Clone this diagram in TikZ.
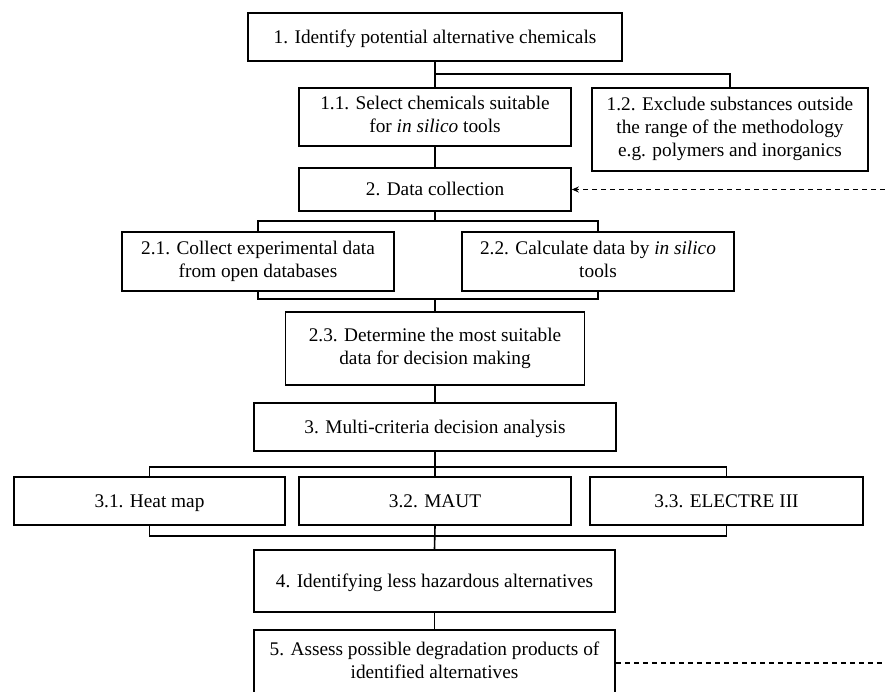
\documentclass[tikz,border=0pt]{standalone}
\usepackage{fontspec}
\setmainfont{Liberation Serif}
\usetikzlibrary{arrows.meta}
\newcommand{\topstrut}{\rule{0pt}{17pt}}
\newcommand{\botstrut}{\rule[-5pt]{0pt}{5pt}}
\begin{document}
\begin{tikzpicture}[x=1pt,y=-1pt,
  box/.style={draw, line width=1.6pt, inner sep=0pt, align=center,
    font=\fontsize{19.3}{23}\selectfont,
    execute at begin node=\topstrut, execute at end node=\botstrut},
  link/.style={line width=1.6pt},
  dashlink/.style={line width=1.3pt, dash pattern=on 5pt off 4pt}]
\useasboundingbox (0,0) rectangle (885,691);
\clip (0,0) rectangle (885,691);
\node[box, minimum width=374pt, minimum height=48pt] (b1) at (435,37) {1. Identify potential alternative chemicals};
\node[box, minimum width=272pt, minimum height=58pt] (b11) at (435,117) {1.1. Select chemicals suitable\\for \textit{in silico} tools};
\node[box, minimum width=276pt, minimum height=83pt] (b12) at (730,129.5) {1.2. Exclude substances outside\\the range of the methodology\\e.g. polymers and inorganics};
\node[box, minimum width=272pt, minimum height=43pt] (b2) at (435,189.5) {2. Data collection};
\node[box, minimum width=272pt, minimum height=59pt] (b21) at (258,261.5) {2.1. Collect experimental data\\from open databases};
\node[box, minimum width=272pt, minimum height=59pt] (b22) at (598,261.5) {2.2. Calculate data by \textit{in silico}\\tools};
\node[box, minimum width=299pt, minimum height=73pt] (b23) at (435,348.5) {2.3. Determine the most suitable\\data for decision making};
\node[box, minimum width=362pt, minimum height=48pt] (b3) at (435,427) {3. Multi-criteria decision analysis};
\node[box, minimum width=271pt, minimum height=48pt] (b31) at (149.5,501) {3.1. Heat map};
\node[box, minimum width=272pt, minimum height=48pt] (b32) at (435,501) {3.2. MAUT};
\node[box, minimum width=273pt, minimum height=48pt] (b33) at (726.5,501) {3.3. ELECTRE III};
\node[box, minimum width=361pt, minimum height=62pt] (b4) at (434.5,581) {4. Identifying less hazardous alternatives};
\node[box, minimum width=361pt, minimum height=66pt] (b5) at (434.5,663) {5. Assess possible degradation products of\\identified alternatives};
\coordinate (j1) at (435,74);
\coordinate (j2) at (435,221);
\coordinate (j3) at (435,299);
\coordinate (j4) at (435,467);
\coordinate (j5) at (435,536);
\coordinate (r1) at (885,189.5);
\coordinate (r2) at (885,663);
\draw[link] (b1.south) -- (b11.north);
\draw[link] (j1) -| (b12.north);
\draw[link] (b11.south) -- (b2.north);
\draw[link] (b2.south) -- (j2);
\draw[link] (b21.north) |- (j2) -| (b22.north);
\draw[link] (b21.south) |- (j3) -| (b22.south);
\draw[link] (j3) -- (b23.north);
\draw[link] (b23.south) -- (b3.north);
\draw[link] (b3.south) -- (b32.north);
\draw[link] (b31.north) |- (j4) -| (b33.north);
\draw[link] (b31.south) |- (j5) -| (b33.south);
\draw[link] (b32.south) -- (b4.north);
\draw[link] (b4.south) -- (b5.north);
\draw[dashlink, -{Stealth[length=7pt,width=6pt]}] (r1) -- (b2.east);
\draw[dashlink] (b5.east) -- (r2);
\end{tikzpicture}
\end{document}
